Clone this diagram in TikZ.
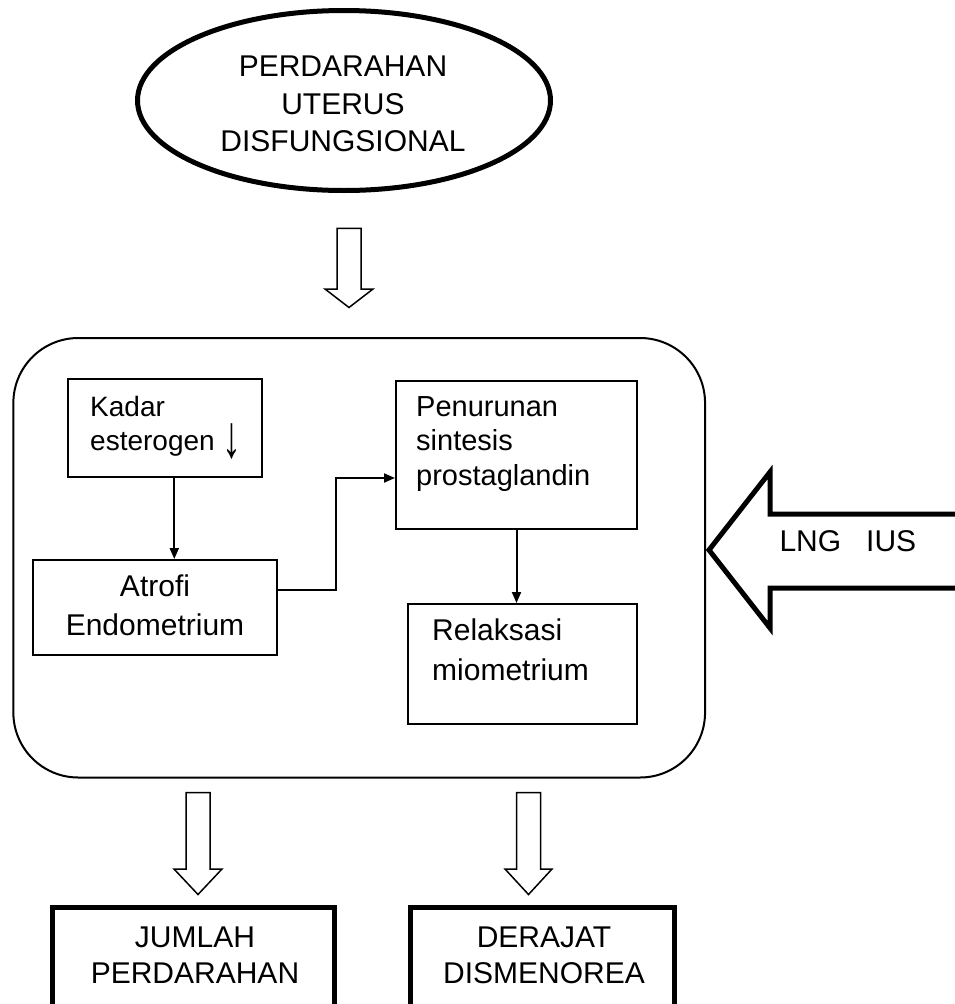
\documentclass[tikz,border=0pt]{standalone}
\usepackage{fontspec}
\setmainfont{Liberation Sans}
\usetikzlibrary{shapes.geometric,arrows.meta}
\begin{document}
\begin{tikzpicture}[
       x=1pt, y=-1pt,
       box/.style={
         draw,
         line width=2pt,
         inner sep=0pt
       },
       hasil/.style={
         draw,
         line width=5pt,
         inner sep=0pt
       },
       teks/.style={
         inner sep=0pt,
         font=\fontsize{30pt}{37.5pt}\selectfont
       },
       hollow/.style={
         line width=1.5pt,
         line join=miter
       },
       panah/.style={
         line width=2pt,
         -{Triangle[length=11pt,width=9pt]}
       }
     ]

       \useasboundingbox (0,0) rectangle (955,1004);
       \clip (0,0) rectangle (955,1004);

       \node (pud) at (344,100.5) [ellipse,draw,line width=5pt,minimum width=413pt,minimum height=180pt]{};
       \node (pudteks) at (343,151.7) [teks,anchor=base,align=center]{PERDARAHAN\\UTERUS\\DISFUNGSIONAL};

       \node (utama) at (359.2,557.75) [draw,line width=2pt,rounded corners=65pt,minimum width=691.7pt,minimum height=439.5pt]{};

       \node (kadar) at (164.7,427.85) [box,minimum width=194pt,minimum height=97.7pt]{};
       \node (atrofi) at (154.8,607.5) [box,minimum width=243.6pt,minimum height=95pt]{};
       \node (penurunan) at (516.5,454.8) [box,minimum width=241pt,minimum height=148.4pt]{};
       \node (relaksasi) at (522.5,664) [box,minimum width=229pt,minimum height=120pt]{};

       \node (kadarteks) at (90,450) [teks,anchor=base west,align=left,font=\fontsize{28pt}{33.5pt}\selectfont]{Kadar\\esterogen \raisebox{-7.6pt}{\scalebox{1.35}[2.15]{↓}}};
       \node (atrofiteks) at (155,635) [teks,anchor=base,align=center,font=\fontsize{30pt}{38.5pt}\selectfont]{Atrofi\\Endometrium};
       \node (penurunanteks) at (416,485) [teks,anchor=base west,align=left,font=\fontsize{29pt}{34.2pt}\selectfont]{Penurunan\\sintesis\\prostaglandin};
       \node (relaksasiteks) at (432,680) [teks,anchor=base west,align=left,font=\fontsize{30pt}{40pt}\selectfont]{Relaksasi\\miometrium};

       \node (jumlah) at (193.5,977.5) [hasil,minimum width=282pt,minimum height=140pt]{};
       \node (derajat) at (542.5,977.5) [hasil,minimum width=264pt,minimum height=140pt]{};
       \node (jumlahteks) at (195,983) [teks,anchor=base,align=center,font=\fontsize{30pt}{36pt}\selectfont]{JUMLAH\\PERDARAHAN};
       \node (derajatteks) at (544,983) [teks,anchor=base,align=center,font=\fontsize{30pt}{36pt}\selectfont]{DERAJAT\\DISMENOREA};

       \draw[panah] ([xshift=9.6pt]kadar.south) -- ([xshift=9.6pt]kadar.south |- atrofi.north);
       \draw[panah] ([yshift=17.5pt]atrofi.east) -- ++(58.8,0) |- ([yshift=-23.2pt]penurunan.west);
       \draw[panah] (penurunan.south) -- (penurunan.south |- relaksasi.north);

       \draw[hollow] (337,228.3) -- (337,289) -- (325,289) -- (349,307.5) -- (373,289) -- (361,289) -- (361,228.3) -- cycle;
       \draw[hollow] (186,792.7) -- (186,869) -- (174,869) -- (198,894.5) -- (222,869) -- (210,869) -- (210,792.7) -- cycle;
       \draw[hollow] (516.7,792.7) -- (516.7,869) -- (505,869) -- (528.5,894.5) -- (552,869) -- (540.7,869) -- (540.7,792.7) -- cycle;

       \draw[line width=5pt,line join=miter] (709,550) -- (770,472) -- (770,514) -- (970,514) -- (970,588) -- (770,588) -- (770,628) -- cycle;
       \node (lng) at (779.3,551.7) [teks,anchor=base west]{LNG~~ IUS};

\end{tikzpicture}
\end{document}
